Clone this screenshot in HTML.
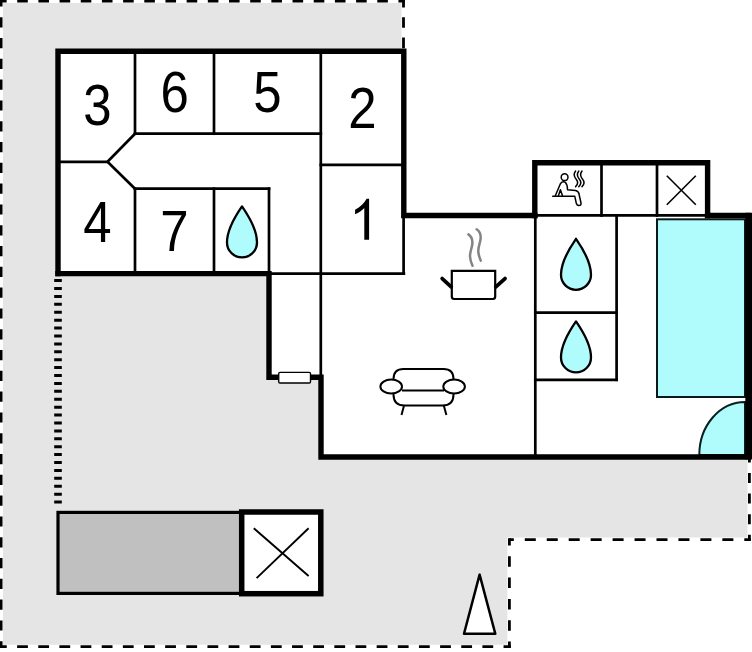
<!DOCTYPE html>
<html><head><meta charset="utf-8">
<style>
html,body{margin:0;padding:0;background:#fff;width:752px;height:652px;overflow:hidden}
svg{display:block}
text{font-family:"Liberation Sans",sans-serif;fill:#000}
</style></head>
<body>
<svg width="752" height="652" viewBox="0 0 752 652">
<!-- terrain -->
<polygon points="3,3 401.5,3 401.5,215.5 747.5,215.5 747.5,537.6 507.4,537.6 507.4,644.8 3,644.8" fill="#e5e5e5"/>
<!-- dashed terrain border -->
<g stroke="#000" stroke-width="2.8" fill="none">
<line x1="0" y1="1.1" x2="404.9" y2="1.1" stroke-dasharray="10.6 10.58" stroke-dashoffset="3.98"/>
<line x1="1.1" y1="0" x2="1.1" y2="646.6" stroke-dasharray="10.2 10.6" stroke-dashoffset="3.6"/>
<line x1="403.5" y1="0" x2="403.5" y2="50" stroke-dasharray="10.6 9.8" stroke-dashoffset="3.2"/>
<line x1="0" y1="646.6" x2="510.8" y2="646.6" stroke-dasharray="10.8 10.35" stroke-dashoffset="4.05"/>
<line x1="509.4" y1="538.2" x2="509.4" y2="648" stroke-dasharray="10.5 10.8" stroke-dashoffset="3.2"/>
<line x1="509.4" y1="539.6" x2="750.8" y2="539.6" stroke-dasharray="11 10.95" stroke-dashoffset="6.55"/>
<line x1="749.4" y1="457" x2="749.4" y2="541" stroke-dasharray="10 10.6" stroke-dashoffset="4.6"/>
</g>
<!-- dotted -->
<line x1="58" y1="279.1" x2="58" y2="505" stroke="#000" stroke-width="7.6" stroke-dasharray="3 4.91"/>
<!-- building fill -->
<polygon points="58,51.2 403.8,51.2 403.8,215.5 534.8,215.5 534.8,162.8 707.6,162.8 707.6,215.5 748.5,215.5 748.5,457 321,457 321,377.3 269,377.3 269,273.6 58,273.6" fill="#fff"/>
<!-- pool -->
<rect x="657" y="219.3" width="88" height="177.7" fill="#b0fbfc" stroke="#0a1a1a" stroke-width="2"/>
<path d="M699.3,455 A45.7,53 0 0 1 745,402 L745,455 Z" fill="#b0fbfc" stroke="#0a2020" stroke-width="2"/>
<!-- thin walls -->
<g stroke="#000" stroke-width="2.7" fill="none" stroke-linecap="square">
<line x1="135" y1="51" x2="135" y2="133.7"/>
<line x1="214" y1="51" x2="214" y2="133.7"/>
<line x1="320.8" y1="51" x2="320.8" y2="377"/>
<line x1="135" y1="133.7" x2="320.8" y2="133.7"/>
<line x1="320.8" y1="164.9" x2="403.8" y2="164.9"/>
<line x1="58" y1="161.8" x2="107.5" y2="161.8"/>
<polyline points="135,133.7 107.5,161.8 135,188.7" stroke-linejoin="miter" stroke-linecap="butt"/>
<line x1="135" y1="188.7" x2="135" y2="273.6"/>
<line x1="135" y1="188.7" x2="269" y2="188.7"/>
<line x1="214" y1="188.7" x2="214" y2="273.6"/>
<line x1="269" y1="188.7" x2="269" y2="273.6"/>
<line x1="269" y1="273.6" x2="403.8" y2="273.6" stroke-width="2.8"/>
<line x1="403.6" y1="215.5" x2="403.6" y2="273.6"/>
<line x1="535.3" y1="215.5" x2="535.3" y2="457"/>
<line x1="616.6" y1="215.5" x2="616.6" y2="379.8"/>
<line x1="535.3" y1="312.7" x2="616.6" y2="312.7" stroke-width="2.7"/>
<line x1="535.3" y1="379.8" x2="616.6" y2="379.8" stroke-width="2.7"/>
<line x1="601.5" y1="162.8" x2="601.5" y2="215.5"/>
<line x1="657" y1="162.8" x2="657" y2="215.5"/>
<line x1="534.8" y1="215.4" x2="707.6" y2="215.4" stroke-width="2.8"/>
</g>
<!-- thick walls -->
<g stroke="#000" stroke-width="5.4" fill="none" stroke-linecap="square" stroke-linejoin="miter">
<polyline points="58,273.6 58,51.2 403.8,51.2 403.8,215.5 534.8,215.5"/>
<polyline points="534.8,215.5 534.8,162.8 707.6,162.8 707.6,215.5"/>
<polyline points="707.6,215.5 748.5,215.5 748.5,457 321,457 321,377.3 269,377.3 269,273.6 58,273.6"/>
</g>
<rect x="745.4" y="212.8" width="6.6" height="246.6" fill="#000"/>
<!-- window in door wall -->
<rect x="278.7" y="372.4" width="31.8" height="10.6" rx="1.3" fill="#fff" stroke="#000" stroke-width="1.4"/>
<!-- room numbers -->
<g font-size="57.9" text-anchor="middle">
<text transform="translate(97.4,125) scale(0.88,1)">3</text>
<text transform="translate(174.6,112.4) scale(0.88,1)">6</text>
<text transform="translate(267.4,111.9) scale(0.88,1)">5</text>
<text transform="translate(362.3,127.8) scale(0.88,1)">2</text>
<text transform="translate(97.4,241.8) scale(0.88,1)">4</text>
<text transform="translate(174.45,251.2) scale(0.88,1)">7</text>
</g>
<path d="M364.3,239.7 L369.1,239.7 L369.1,198.7 L366.6,198.7 C364.6,202.6 360.3,206.9 355.1,209.8 L355.1,214.3 C358.9,212.6 362,210.4 364.3,207.9 Z" fill="#000"/>
<!-- drops -->
<g fill="#b0fbfc" stroke="#000" stroke-width="2.3" stroke-linejoin="round">
<path d="M576,238.8 C571,246 561,262 561,274.8 A15,15 0 0 0 591,274.8 C591,262 581,246 576,238.8 Z"/>
<path d="M576,321.4 C571,328.6 561,344.6 561,357.4 A15,15 0 0 0 591,357.4 C591,344.6 581,328.6 576,321.4 Z"/>
<path d="M242,206.4 C237,213.6 227,229.6 227,242.4 A15,15 0 0 0 257,242.4 C257,229.6 247,213.6 242,206.4 Z"/>
</g>
<!-- X boxes -->
<g stroke="#000" stroke-width="1.6">
<line x1="666.8" y1="175.7" x2="695.8" y2="204.8"/>
<line x1="695.8" y1="175.7" x2="666.8" y2="204.8"/>
</g>
<!-- carport -->
<rect x="58" y="512.4" width="183.7" height="81" fill="#c0c0c0" stroke="#000" stroke-width="3.2"/>
<rect x="241.7" y="512" width="79.1" height="81.7" fill="#fff" stroke="#000" stroke-width="5.5"/>
<g stroke="#000" stroke-width="1.9">
<line x1="253.8" y1="528.2" x2="308.6" y2="576"/>
<line x1="308.6" y1="528.2" x2="256.6" y2="578.1"/>
</g>
<!-- north arrow -->
<polygon points="479.6,574.6 464,633.8 495.3,633.8" fill="#fff" stroke="#000" stroke-width="2.5" stroke-linejoin="round"/>
<!-- pot -->
<g stroke="#000" fill="none">
<path d="M451.8,270.9 L495.2,270.9 L495.2,296.6 Q495.2,299 492.8,299 L454.2,299 Q451.8,299 451.8,296.6 Z" stroke-width="2.2" fill="#fff"/>
<line x1="442.2" y1="278.6" x2="451.2" y2="286.8" stroke-width="3.8" stroke-linecap="round"/>
<line x1="495.8" y1="286.8" x2="505" y2="278.6" stroke-width="3.8" stroke-linecap="round"/>
</g>
<g stroke="#848484" stroke-width="2.5" fill="none" stroke-linecap="round">
<path d="M468.4,234.4 C471.5,236.5 472.8,239.5 472.3,244 C471.8,248.5 469.8,252 470,256.5 C470.2,260.5 471.5,263.5 472.5,265.8"/>
<path d="M476.7,229.3 C479.8,231.4 481.1,234.4 480.6,238.9 C480.1,243.4 478.1,246.9 478.3,251.4 C478.5,255.4 479.8,258.4 480.8,260.7"/>
</g>
<!-- sofa -->
<g stroke="#000" stroke-width="2" fill="#fff">
<path d="M393.5,386 L393.5,379 Q393.5,369 403.5,369 L443.5,369 Q453.5,369 453.5,379 L453.5,386"/>
<path d="M393.5,386 L393.5,394.5 Q393.5,405.5 404.5,405.5 L442.5,405.5 Q453.5,405.5 453.5,394.5 L453.5,386" />
<line x1="402" y1="390.5" x2="444" y2="390.5"/>
<ellipse cx="391.2" cy="386.5" rx="10.8" ry="7"/>
<ellipse cx="454.1" cy="386.5" rx="10.8" ry="7"/>
<line x1="403.9" y1="406" x2="401.5" y2="415"/>
<line x1="443.9" y1="406" x2="446.4" y2="415"/>
</g>
<!-- sauna -->
<g stroke="#000" stroke-width="1.5" fill="none" stroke-linecap="round" stroke-linejoin="round">
<circle cx="564.6" cy="177.2" r="3.4"/>
<line x1="552.7" y1="196.3" x2="574" y2="196.3"/>
<path d="M555.3,195.8 L560.5,183.5 Q562.8,180.6 565.5,182.5 Q567.5,184.8 567.5,189.8 L575.5,190.6 Q578.6,191.3 579,194 L581,203 Q581.3,205.8 578.7,205.6 Q576.8,205.3 576.3,203.3 L574.8,196.3"/>
<path d="M558.4,195.8 L560.4,189.8 L562.5,195.8"/>
<path d="M575.6,171 C573.6,173.6 573.9,176.6 576.2,179.2 C578.4,181.8 578,184.2 575.6,186.6"/>
<path d="M578.8,171 C576.8,173.6 577.1,176.6 579.4,179.2 C581.6,181.8 581.2,184.2 578.8,186.6"/>
<path d="M582,171 C580,173.6 580.3,176.6 582.6,179.2 C584.8,181.8 584.4,184.2 582,186.6"/>
</g>
</svg>
</body></html>
